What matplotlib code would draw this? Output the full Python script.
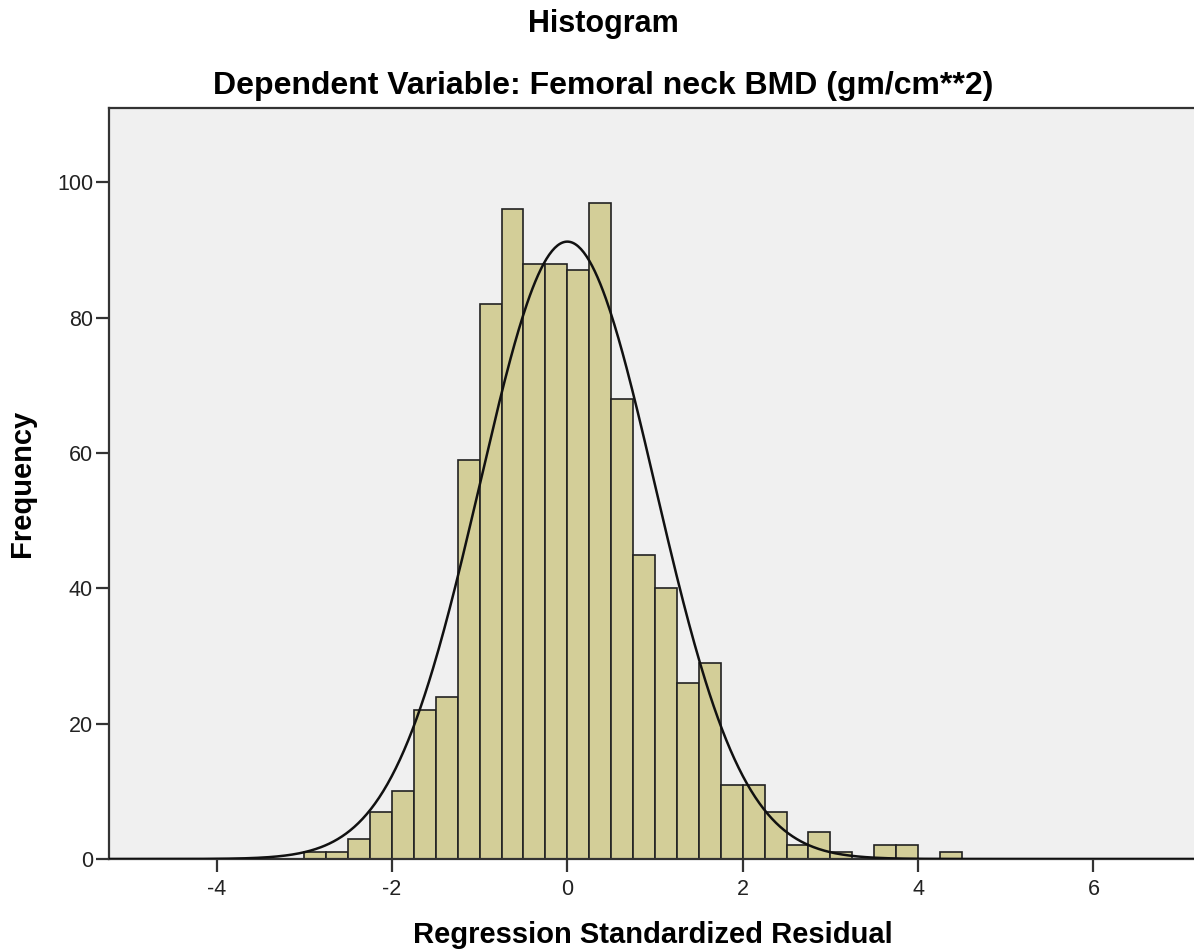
import numpy as np
import matplotlib
matplotlib.use("Agg")
import matplotlib.pyplot as plt

# Data
bin_left_edges = [-3.0, -2.75, -2.5, -2.25, -2.0, -1.75, -1.5, -1.25, -1.0, -0.75,
                  -0.5, -0.25, 0.0, 0.25, 0.5, 0.75, 1.0, 1.25, 1.5, 1.75,
                  2.0, 2.25, 2.5, 2.75, 3.0, 3.25, 3.5, 3.75, 4.0, 4.25]
frequencies = [1, 1, 3, 7, 10, 22, 24, 59, 82, 96,
               88, 88, 87, 97, 68, 45, 40, 26, 29, 11,
               11, 7, 2, 4, 1, 0, 2, 2, 0, 1]
bin_width = 0.25
resid_mean = 0.0
resid_std = 0.999
x_ticks = [-4, -2, 0, 2, 4, 6]
y_ticks = [0, 20, 40, 60, 80, 100]

plt.rcParams['font.family'] = ['Liberation Sans', 'DejaVu Sans']

fig = plt.figure(figsize=(11.94, 9.51), dpi=100)
W, H = 1194, 951
left, right, top, bottom = 109, 1196, 108, 859
ax = fig.add_axes([left / W, 1 - bottom / H, (right - left) / W, (bottom - top) / H])
ax.set_facecolor('#F0F0F0')

ax.bar(bin_left_edges, frequencies, width=bin_width, align='edge',
       color='#D3CE98', edgecolor='#222222', linewidth=1.2, zorder=2)

n = sum(frequencies)
xs = np.linspace(-5.3, 7.3, 800)
ys = n * bin_width / (np.sqrt(2 * np.pi) * resid_std) * np.exp(-0.5 * ((xs - resid_mean) / resid_std) ** 2)
ax.plot(xs, ys, color='#111111', linewidth=1.8, zorder=3)

ax.set_xlim(-5.227, 7.17)
ax.set_ylim(0, 111.0)
ax.set_xticks(x_ticks)
ax.set_xticklabels([str(t) for t in x_ticks])
ax.set_yticks(y_ticks)
ax.set_yticklabels([str(t) for t in y_ticks])
ax.tick_params(axis='both', direction='out', length=9.5, width=1.6, color='#333333',
               labelsize=15.5, labelcolor='#222222')
ax.tick_params(axis='x', pad=5)
ax.tick_params(axis='y', pad=2)

for s in ['left', 'bottom', 'top']:
    ax.spines[s].set_color('#333333')
    ax.spines[s].set_linewidth(1.6)
ax.spines['right'].set_visible(False)

ax.set_xlabel('Regression Standardized Residual', fontsize=21, fontweight='bold', va='center')
ax.set_ylabel('Frequency', fontsize=21, fontweight='bold', va='center')
ax.xaxis.set_label_coords(0.5, (bottom - 935) / (bottom - top))
ax.yaxis.set_label_coords((22 - left) / (right - left), 0.5)

fig.text(603 / W, 1 - 24 / H, 'Histogram', ha='center', va='center', fontsize=22, fontweight='bold')
fig.text(603 / W, 1 - 86 / H, 'Dependent Variable: Femoral neck BMD (gm/cm**2)', ha='center', va='center',
         fontsize=23, fontweight='bold')

fig.savefig('out.png', dpi=100, facecolor='white')
